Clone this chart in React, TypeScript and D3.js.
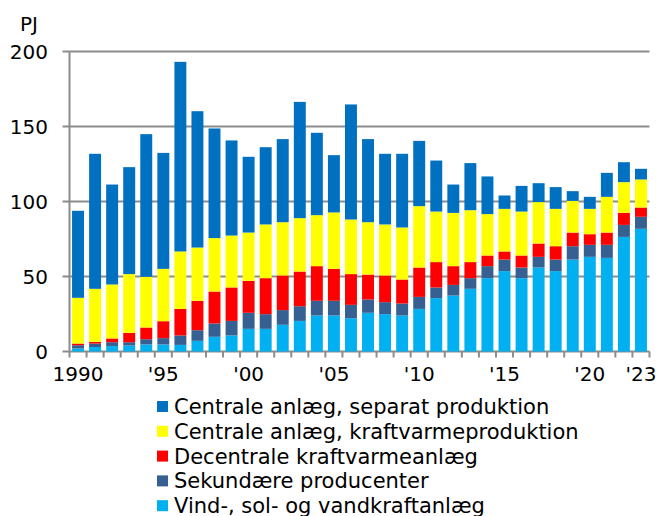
import React from "react";
import * as d3 from "d3";

const years = [
  1990, 1991, 1992, 1993, 1994, 1995, 1996, 1997, 1998, 1999,
  2000, 2001, 2002, 2003, 2004, 2005, 2006, 2007, 2008, 2009,
  2010, 2011, 2012, 2013, 2014, 2015, 2016, 2017, 2018, 2019,
  2020, 2021, 2022, 2023,
];

const vind = [
  2, 3, 3.6, 4, 4.7, 4.7, 4.4, 7.1, 9.8, 10.7,
  15.1, 15.1, 17.8, 20.4, 24, 24, 22.2, 25.8, 24.9, 24,
  28.4, 35.6, 37.3, 41.8, 48.9, 53.6, 48.9, 56, 53.6, 61.3,
  63.1, 62.4, 76.4, 81.8,
];
const sekundaere = [
  2.2, 2.3, 2.6, 2.2, 3.5, 4.2, 6.3, 7.1, 8.9, 9.7,
  10.7, 9.8, 9.8, 9.8, 9.8, 9.8, 8.9, 8.9, 8, 8,
  8, 7.1, 7.1, 7.1, 8, 7.7, 7.1, 7.1, 7.7, 8.9,
  8, 8.7, 8, 8,
];
const decentrale = [
  1.1, 1.1, 2.5, 6.2, 7.8, 11.3, 17.7, 19.6, 21.3, 22.3,
  21.3, 24, 23.1, 23.1, 23.1, 21.3, 20.5, 16.6, 17.8, 16,
  19.6, 16.9, 12.5, 10.7, 7.1, 5.4, 8, 8.9, 8.9, 9.1,
  7.1, 8.2, 8, 6.2,
];
const kraftvarme = [
  30.5, 35.4, 36, 39.2, 33.8, 34.9, 38.3, 35.5, 35.6, 34.6,
  32.2, 35.8, 35.5, 35.6, 34, 37.6, 36.4, 34.9, 34, 34.7,
  40.9, 33.7, 35.5, 34.6, 27.6, 28.4, 29.3, 27.6, 24.9, 21.1,
  16.9, 23.8, 20.5, 18.7,
];
const separat = [
  58, 90, 66.6, 71.3, 95.1, 77.3, 126.4, 90.9, 73.1, 63.4,
  50.5, 51.5, 55.4, 77.5, 54.9, 38.2, 76.7, 55.4, 47.1, 49.1,
  43.5, 34, 18.9, 31.4, 25.1, 8.9, 17.1, 12.6, 14.5, 6.5,
  8, 16, 13.3, 7.1,
];

const seriesNames = [
  "Vind-, sol- og vandkraftanlæg",
  "Sekundære producenter",
  "Decentrale kraftvarmeanlæg",
  "Centrale anlæg, kraftvarmeproduktion",
  "Centrale anlæg, separat produktion",
];
const legendLabels = [
  "Centrale anlæg, separat produktion",
  "Centrale anlæg, kraftvarmeproduktion",
  "Decentrale kraftvarmeanlæg",
  "Sekundære producenter",
  "Vind-, sol- og vandkraftanlæg",
];
const colors = ["#00B0F0", "#376092", "#FF0000", "#FFFF00", "#0070C0"];
const legendColors = ["#0070C0", "#FFFF00", "#FF0000", "#376092", "#00B0F0"];

const yTicks = [0, 50, 100, 150, 200];
const xLabelYears = [1990, 1995, 2000, 2005, 2010, 2015, 2020, 2023];
const xLabelTexts = ["1990", "'95", "'00", "'05", "'10", "'15", "'20", "'23"];

const FONT = "'DejaVu Sans', Verdana, sans-serif";

export default function App() {
  const left = 69.5;
  const right = 649.5;
  const top = 51.5;
  const bottom = 351.5;

  const x = d3
    .scaleBand<number>()
    .domain(years)
    .range([left, right])
    .paddingInner(0.3)
    .paddingOuter(0.15);
  const y = d3.scaleLinear().domain([0, 200]).range([bottom, top]);

  const table = years.map((yr, i) => ({
    year: yr,
    s0: vind[i],
    s1: sekundaere[i],
    s2: decentrale[i],
    s3: kraftvarme[i],
    s4: separat[i],
  }));
  const keys = ["s0", "s1", "s2", "s3", "s4"];
  const stacked = d3.stack<any>().keys(keys)(table);

  const step = x.step();
  const grid = "#8C8C8C";

  return (
    <svg
      width={657}
      height={516}
      style={{ position: "fixed", left: 0, top: 0, background: "#fff" }}
      fontFamily={FONT}
    >
      <rect x={0} y={0} width={657} height={516} fill="#fff" />
      {yTicks.map((t) => (
        <line
          key={"g" + t}
          x1={left - 7}
          x2={right}
          y1={y(t)}
          y2={y(t)}
          stroke={grid}
          strokeWidth={2}
        />
      ))}
      <line x1={left} x2={left} y1={top} y2={bottom} stroke={grid} strokeWidth={2} />
      {d3.range(years.length + 1).map((i) => (
        <line
          key={"xt" + i}
          x1={left + i * step}
          x2={left + i * step}
          y1={bottom}
          y2={bottom + 6}
          stroke={grid}
          strokeWidth={2}
        />
      ))}
      {stacked.map((layer, li) => (
        <g key={"l" + li} fill={colors[li]}>
          {layer.map((d, i) => (
            <rect
              key={i}
              x={x(years[i])}
              width={x.bandwidth()}
              y={y(d[1])}
              height={Math.max(0, y(d[0]) - y(d[1]))}
            >
              <title>{seriesNames[li]}</title>
            </rect>
          ))}
        </g>
      ))}
      {yTicks.map((t) => (
        <text
          key={"yl" + t}
          x={48}
          y={y(t) + 7}
          textAnchor="end"
          fontSize={20}
          fill="#000"
        >
          {t}
        </text>
      ))}
      <text x={20} y={31} fontSize={20} fill="#000">
        PJ
      </text>
      {xLabelYears.map((yr, i) => (
        <text
          key={"xl" + yr}
          x={(x(yr) as number) + x.bandwidth() / 2}
          y={381}
          textAnchor="middle"
          fontSize={20}
          fill="#000"
        >
          {xLabelTexts[i]}
        </text>
      ))}
      {legendLabels.map((lab, i) => (
        <g key={"lg" + i}>
          <rect x={157} y={401 + i * 24.8} width={11} height={11} fill={legendColors[i]} />
          <text x={174} y={414 + i * 24.8} fontSize={21} fill="#000">
            {lab}
          </text>
        </g>
      ))}
    </svg>
  );
}
